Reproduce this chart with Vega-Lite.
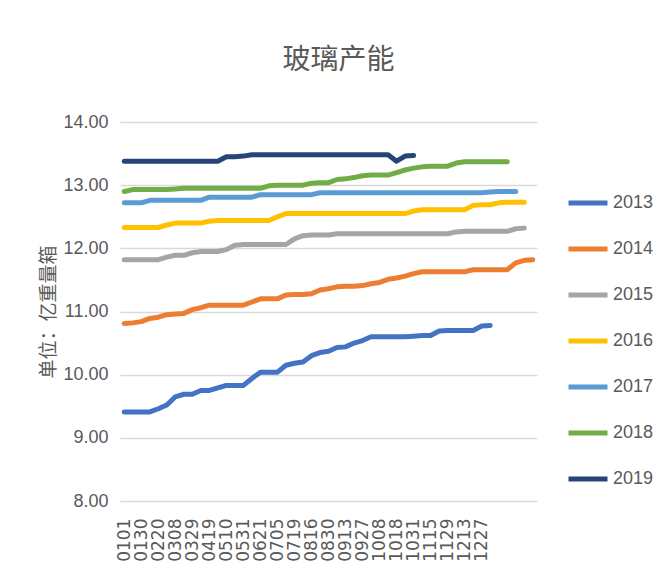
{
  "$schema": "https://vega.github.io/schema/vega-lite/v6.json",
  "autosize": "none",
  "width": 417,
  "height": 379,
  "padding": {"left": 120, "top": 122, "right": 128, "bottom": 80},
  "background": "white",
  "title": {
    "text": "玻璃产能",
    "font": "Noto Sans CJK SC",
    "fontSize": 28,
    "fontWeight": "normal",
    "color": "#595959",
    "anchor": "middle",
    "offset": 38,
    "dx": 10
  },
  "data": {
    "values": [
      {"d": "0101", "2013": 9.41, "2014": 10.81, "2015": 11.82, "2016": 12.33, "2017": 12.72, "2018": 12.90, "2019": 13.38},
      {"d": "0115", "2013": 9.41, "2014": 10.82, "2015": 11.82, "2016": 12.33, "2017": 12.72, "2018": 12.93, "2019": 13.38},
      {"d": "0130", "2013": 9.41, "2014": 10.84, "2015": 11.82, "2016": 12.33, "2017": 12.72, "2018": 12.93, "2019": 13.38},
      {"d": "0210", "2013": 9.41, "2014": 10.89, "2015": 11.82, "2016": 12.33, "2017": 12.76, "2018": 12.93, "2019": 13.38},
      {"d": "0220", "2013": 9.46, "2014": 10.91, "2015": 11.82, "2016": 12.33, "2017": 12.76, "2018": 12.93, "2019": 13.38},
      {"d": "0301", "2013": 9.52, "2014": 10.95, "2015": 11.86, "2016": 12.37, "2017": 12.76, "2018": 12.93, "2019": 13.38},
      {"d": "0308", "2013": 9.65, "2014": 10.96, "2015": 11.89, "2016": 12.40, "2017": 12.76, "2018": 12.94, "2019": 13.38},
      {"d": "0315", "2013": 9.69, "2014": 10.97, "2015": 11.89, "2016": 12.40, "2017": 12.76, "2018": 12.95, "2019": 13.38},
      {"d": "0329", "2013": 9.69, "2014": 11.03, "2015": 11.93, "2016": 12.40, "2017": 12.76, "2018": 12.95, "2019": 13.38},
      {"d": "0405", "2013": 9.75, "2014": 11.06, "2015": 11.95, "2016": 12.40, "2017": 12.76, "2018": 12.95, "2019": 13.38},
      {"d": "0419", "2013": 9.75, "2014": 11.10, "2015": 11.95, "2016": 12.43, "2017": 12.81, "2018": 12.95, "2019": 13.38},
      {"d": "0426", "2013": 9.79, "2014": 11.10, "2015": 11.95, "2016": 12.44, "2017": 12.81, "2018": 12.95, "2019": 13.38},
      {"d": "0510", "2013": 9.83, "2014": 11.10, "2015": 11.98, "2016": 12.44, "2017": 12.81, "2018": 12.95, "2019": 13.45},
      {"d": "0517", "2013": 9.83, "2014": 11.10, "2015": 12.05, "2016": 12.44, "2017": 12.81, "2018": 12.95, "2019": 13.45},
      {"d": "0531", "2013": 9.83, "2014": 11.10, "2015": 12.06, "2016": 12.44, "2017": 12.81, "2018": 12.95, "2019": 13.46},
      {"d": "0614", "2013": 9.94, "2014": 11.15, "2015": 12.06, "2016": 12.44, "2017": 12.81, "2018": 12.95, "2019": 13.48},
      {"d": "0621", "2013": 10.04, "2014": 11.20, "2015": 12.06, "2016": 12.44, "2017": 12.85, "2018": 12.95, "2019": 13.48},
      {"d": "0628", "2013": 10.04, "2014": 11.20, "2015": 12.06, "2016": 12.44, "2017": 12.85, "2018": 12.99, "2019": 13.48},
      {"d": "0705", "2013": 10.04, "2014": 11.20, "2015": 12.06, "2016": 12.50, "2017": 12.85, "2018": 13.00, "2019": 13.48},
      {"d": "0712", "2013": 10.15, "2014": 11.26, "2015": 12.06, "2016": 12.55, "2017": 12.85, "2018": 13.00, "2019": 13.48},
      {"d": "0719", "2013": 10.18, "2014": 11.27, "2015": 12.15, "2016": 12.55, "2017": 12.85, "2018": 13.00, "2019": 13.48},
      {"d": "0802", "2013": 10.20, "2014": 11.27, "2015": 12.20, "2016": 12.55, "2017": 12.85, "2018": 13.00, "2019": 13.48},
      {"d": "0816", "2013": 10.30, "2014": 11.28, "2015": 12.21, "2016": 12.55, "2017": 12.85, "2018": 13.03, "2019": 13.48},
      {"d": "0823", "2013": 10.35, "2014": 11.34, "2015": 12.21, "2016": 12.55, "2017": 12.88, "2018": 13.04, "2019": 13.48},
      {"d": "0830", "2013": 10.37, "2014": 11.36, "2015": 12.21, "2016": 12.55, "2017": 12.88, "2018": 13.04, "2019": 13.48},
      {"d": "0906", "2013": 10.43, "2014": 11.39, "2015": 12.23, "2016": 12.55, "2017": 12.88, "2018": 13.09, "2019": 13.48},
      {"d": "0913", "2013": 10.44, "2014": 11.40, "2015": 12.23, "2016": 12.55, "2017": 12.88, "2018": 13.10, "2019": 13.48},
      {"d": "0920", "2013": 10.50, "2014": 11.40, "2015": 12.23, "2016": 12.55, "2017": 12.88, "2018": 13.12, "2019": 13.48},
      {"d": "0927", "2013": 10.54, "2014": 11.41, "2015": 12.23, "2016": 12.55, "2017": 12.88, "2018": 13.15, "2019": 13.48},
      {"d": "1001", "2013": 10.60, "2014": 11.44, "2015": 12.23, "2016": 12.55, "2017": 12.88, "2018": 13.16, "2019": 13.48},
      {"d": "1008", "2013": 10.60, "2014": 11.46, "2015": 12.23, "2016": 12.55, "2017": 12.88, "2018": 13.16, "2019": 13.48},
      {"d": "1011", "2013": 10.60, "2014": 11.51, "2015": 12.23, "2016": 12.55, "2017": 12.88, "2018": 13.16, "2019": 13.48},
      {"d": "1018", "2013": 10.60, "2014": 11.53, "2015": 12.23, "2016": 12.55, "2017": 12.88, "2018": 13.20, "2019": 13.38},
      {"d": "1025", "2013": 10.60, "2014": 11.56, "2015": 12.23, "2016": 12.55, "2017": 12.88, "2018": 13.24, "2019": 13.46},
      {"d": "1031", "2013": 10.61, "2014": 11.60, "2015": 12.23, "2016": 12.59, "2017": 12.88, "2018": 13.27, "2019": 13.47},
      {"d": "1108", "2013": 10.62, "2014": 11.63, "2015": 12.23, "2016": 12.61, "2017": 12.88, "2018": 13.29},
      {"d": "1115", "2013": 10.62, "2014": 11.63, "2015": 12.23, "2016": 12.61, "2017": 12.88, "2018": 13.30},
      {"d": "1122", "2013": 10.69, "2014": 11.63, "2015": 12.23, "2016": 12.61, "2017": 12.88, "2018": 13.30},
      {"d": "1129", "2013": 10.70, "2014": 11.63, "2015": 12.23, "2016": 12.61, "2017": 12.88, "2018": 13.30},
      {"d": "1206", "2013": 10.70, "2014": 11.63, "2015": 12.26, "2016": 12.61, "2017": 12.88, "2018": 13.35},
      {"d": "1213", "2013": 10.70, "2014": 11.63, "2015": 12.27, "2016": 12.61, "2017": 12.88, "2018": 13.37},
      {"d": "1220", "2013": 10.70, "2014": 11.66, "2015": 12.27, "2016": 12.68, "2017": 12.88, "2018": 13.37},
      {"d": "1227", "2013": 10.77, "2014": 11.66, "2015": 12.27, "2016": 12.69, "2017": 12.88, "2018": 13.37},
      {"d": "1231", "2013": 10.78, "2014": 11.66, "2015": 12.27, "2016": 12.69, "2017": 12.89, "2018": 13.37},
      {"d": "c44", "2014": 11.66, "2015": 12.27, "2016": 12.72, "2017": 12.90, "2018": 13.37},
      {"d": "c45", "2014": 11.66, "2015": 12.27, "2016": 12.73, "2017": 12.90, "2018": 13.37},
      {"d": "c46", "2014": 11.77, "2015": 12.31, "2016": 12.73, "2017": 12.90},
      {"d": "c47", "2014": 11.81, "2015": 12.32, "2016": 12.73},
      {"d": "c48", "2014": 11.82}
    ]
  },
  "transform": [
    {"fold": ["2013", "2014", "2015", "2016", "2017", "2018", "2019"], "as": ["year", "value"]},
    {"filter": "isValid(datum.value)"}
  ],
  "mark": {"type": "line", "strokeWidth": 5, "strokeCap": "round", "strokeJoin": "round"},
  "encoding": {
    "x": {
      "field": "d",
      "type": "ordinal",
      "scale": {"type": "point", "padding": 0.5},
      "axis": {
        "title": null,
        "labelAngle": 270,
        "labelFont": "DejaVu Sans",
        "labelFontSize": 17,
        "labelColor": "#595959",
        "labelPadding": 17,
        "ticks": false,
        "domain": false,
        "grid": false,
        "labelOverlap": false,
        "labelExpr": "indexof(['0101','0130','0220','0308','0329','0419','0510','0531','0621','0705','0719','0816','0830','0913','0927','1008','1018','1031','1115','1129','1213','1227'], datum.value) >= 0 ? datum.value : ''"
      }
    },
    "y": {
      "field": "value",
      "type": "quantitative",
      "scale": {"domain": [8, 14], "nice": false, "zero": false},
      "axis": {
        "title": "单位：亿重量箱",
        "titleFont": "Noto Sans CJK SC",
        "titleFontSize": 19,
        "titleFontWeight": "normal",
        "titleColor": "#595959",
        "titlePadding": 4,
        "values": [8, 9, 10, 11, 12, 13, 14],
        "format": ".2f",
        "labelFont": "Liberation Sans",
        "labelFontSize": 18,
        "labelColor": "#595959",
        "labelPadding": 12,
        "ticks": false,
        "domain": false,
        "grid": true,
        "gridColor": "#d9d9d9",
        "gridWidth": 1.5
      }
    },
    "color": {
      "field": "year",
      "type": "nominal",
      "scale": {
        "domain": ["2013", "2014", "2015", "2016", "2017", "2018", "2019"],
        "range": ["#4472C4", "#ED7D31", "#A5A5A5", "#FFC000", "#5B9BD5", "#70AD47", "#264478"]
      },
      "legend": {
        "title": null,
        "orient": "none",
        "legendX": 446,
        "legendY": 59,
        "symbolType": "stroke",
        "symbolSize": 1521,
        "symbolStrokeWidth": 5,
        "labelFont": "Liberation Sans",
        "labelFontSize": 18,
        "labelColor": "#595959",
        "labelOffset": 3,
        "rowPadding": 14
      }
    }
  },
  "config": {"view": {"stroke": null}}
}
